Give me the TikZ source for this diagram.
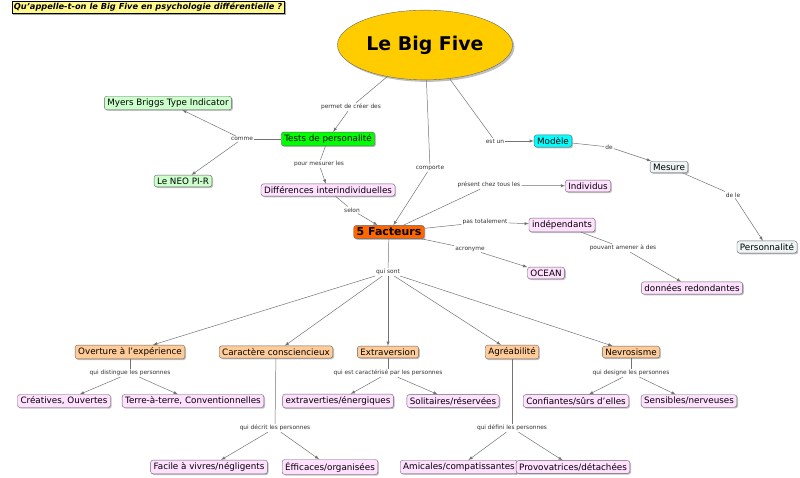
\documentclass[tikz,border=0pt]{standalone}
\usepackage{fontspec}
\setmainfont{DejaVu Sans}
\usepackage{xcolor}
\usetikzlibrary{positioning, shapes.geometric, shadows}
\definecolor{bigcol}{HTML}{FFCC00}
\definecolor{mintcol}{HTML}{CCFFCC}
\definecolor{pinkcol}{HTML}{FFE0FF}
\definecolor{peachcol}{HTML}{FFCC99}
\definecolor{greycol}{HTML}{EEF4F4}
\definecolor{modcol}{HTML}{00FFFF}
\definecolor{fivecol}{HTML}{FF6600}
\begin{document}
\begin{tikzpicture}[x=1bp, y=-1bp]
\tikzstyle{concept} = [rectangle, rounded corners=2.5pt, draw=black!60, text centered, font=\fontsize{8.8}{10}\selectfont, inner xsep=3pt, inner ysep=2.5pt, drop shadow={shadow xshift=1.2pt, shadow yshift=-1.2pt, fill=black!50}]
\tikzstyle{linkword} = [inner sep=1pt, font=\fontsize{5.9}{7}\selectfont, text=black!80]
\tikzstyle{line} = [draw=black!55, line width=0.5pt]
\tikzstyle{arr} = [line, -latex]
\useasboundingbox (0,0) rectangle (800,478);
\node[rectangle, draw=black, fill=yellow!45, inner sep=2pt, font=\fontsize{8.3}{9}\selectfont\bfseries\itshape, drop shadow={shadow xshift=1.5pt, shadow yshift=-1.5pt, fill=black!70}] at (148,7) (title) {Qu'appelle-t-on le Big Five en psychologie différentielle ?};
% concepts
\node[ellipse, draw=black!60, fill=bigcol, minimum width=134, minimum height=70, font=\fontsize{19}{20}\selectfont\bfseries, drop shadow={shadow xshift=2pt, shadow yshift=-2pt, fill=black!50}] at (425,45) (big) {Le Big Five};
\node[concept, fill=mintcol] at (168,103) (myers) {Myers Briggs Type Indicator};
\node[concept, fill=green] at (328,139) (tests) {Tests de personalité};
\node[concept, fill=mintcol] at (183,181) (neo) {Le NEO PI-R};
\node[concept, fill=pinkcol] at (328,190) (diff) {Différences interindividuelles};
\node[concept, fill=fivecol, font=\fontsize{11}{12}\selectfont\bfseries] at (389,232) (five) {5 Facteurs};
\node[concept, fill=modcol] at (553,141) (modele) {Modèle};
\node[concept, fill=greycol] at (669,167) (mesure) {Mesure};
\node[concept, fill=greycol] at (767,247) (perso) {Personnalité};
\node[concept, fill=pinkcol] at (588,186) (indiv) {Individus};
\node[concept, fill=pinkcol] at (562,225) (indep) {indépendants};
\node[concept, fill=pinkcol] at (546,273) (ocean) {OCEAN};
\node[concept, fill=pinkcol] at (692,288) (redond) {données redondantes};
\node[concept, fill=peachcol] at (130,352) (ouv) {Overture à l'expérience};
\node[concept, fill=peachcol] at (276,352) (cons) {Caractère consciencieux};
\node[concept, fill=peachcol] at (388,352) (extra) {Extraversion};
\node[concept, fill=peachcol] at (512,352) (agre) {Agréabilité};
\node[concept, fill=peachcol] at (631,352) (nevro) {Nevrosisme};
\node[concept, fill=pinkcol] at (64,401) (creat) {Créatives, Ouvertes};
\node[concept, fill=pinkcol] at (193,401) (terre) {Terre-à-terre, Conventionnelles};
\node[concept, fill=pinkcol] at (338,401) (extv) {extraverties/énergiques};
\node[concept, fill=pinkcol] at (453,401) (solit) {Solitaires/réservées};
\node[concept, fill=pinkcol] at (576,401) (confi) {Confiantes/sûrs d'elles};
\node[concept, fill=pinkcol] at (689,401) (sensi) {Sensibles/nerveuses};
\node[concept, fill=pinkcol] at (209,467) (facile) {Facile à vivres/négligents};
\node[concept, fill=pinkcol] at (330,467) (effic) {Éfficaces/organisées};
\node[concept, fill=pinkcol] at (459,467) (amic) {Amicales/compatissantes};
\node[concept, fill=pinkcol] at (573,467) (provo) {Provovatrices/détachées};
% linking words
\node[linkword] at (351,107) (l_permet) {permet de créer des};
\node[linkword] at (242,139) (l_comme) {comme};
\node[linkword] at (319,164) (l_pour) {pour mesurer les};
\node[linkword] at (352,210) (l_selon) {selon};
\node[linkword] at (430,168) (l_comp) {comporte};
\node[linkword] at (495,141) (l_est) {est un};
\node[linkword] at (609,147) (l_de) {de};
\node[linkword] at (733,195) (l_dele) {de le};
\node[linkword] at (489,185) (l_pres) {présent chez tous les};
\node[linkword] at (485,222) (l_pas) {pas totalement};
\node[linkword] at (470,249) (l_acro) {acronyme};
\node[linkword] at (623,248) (l_pouv) {pouvant amener à des};
\node[linkword] at (388,272) (l_qui) {qui sont};
\node[linkword] at (130,373) (l_ouv) {qui distingue les personnes};
\node[linkword] at (388,373) (l_extra) {qui est caractérisé par les personnes};
\node[linkword] at (631,373) (l_nevro) {qui designe les personnes};
\node[linkword] at (275,428) (l_cons) {qui décrit les personnes};
\node[linkword] at (512,428) (l_agre) {qui défini les personnes};
% connectors
\draw[line] (big) -- (l_permet);  \draw[arr] (l_permet) -- (tests);
\draw[line] (tests) -- (l_comme); \draw[arr] (l_comme) -- (myers); \draw[arr] (l_comme) -- (neo);
\draw[line] (tests) -- (l_pour);  \draw[arr] (l_pour) -- (diff);
\draw[line] (diff) -- (l_selon);  \draw[arr] (l_selon) -- (five);
\draw[line] (big) -- (l_comp);    \draw[arr] (l_comp) -- (five);
\draw[line] (big) -- (l_est);     \draw[arr] (l_est) -- (modele);
\draw[line] (modele) -- (l_de);   \draw[arr] (l_de) -- (mesure);
\draw[line] (mesure) -- (l_dele); \draw[arr] (l_dele) -- (perso);
\draw[line] (five) -- (l_pres);   \draw[arr] (l_pres) -- (indiv);
\draw[line] (five) -- (l_pas);    \draw[arr] (l_pas) -- (indep);
\draw[line] (five) -- (l_acro);   \draw[arr] (l_acro) -- (ocean);
\draw[line] (indep) -- (l_pouv);  \draw[arr] (l_pouv) -- (redond);
\draw[line] (five) -- (l_qui);
\foreach \t in {ouv, cons, extra, agre, nevro} \draw[arr] (l_qui) -- (\t);
\draw[line] (ouv) -- (l_ouv);     \draw[arr] (l_ouv) -- (creat); \draw[arr] (l_ouv) -- (terre);
\draw[line] (extra) -- (l_extra); \draw[arr] (l_extra) -- (extv); \draw[arr] (l_extra) -- (solit);
\draw[line] (nevro) -- (l_nevro); \draw[arr] (l_nevro) -- (confi); \draw[arr] (l_nevro) -- (sensi);
\draw[line] (cons) -- (l_cons);   \draw[arr] (l_cons) -- (facile); \draw[arr] (l_cons) -- (effic);
\draw[line] (agre) -- (l_agre);   \draw[arr] (l_agre) -- (amic); \draw[arr] (l_agre) -- (provo);
\end{tikzpicture}
\end{document}
